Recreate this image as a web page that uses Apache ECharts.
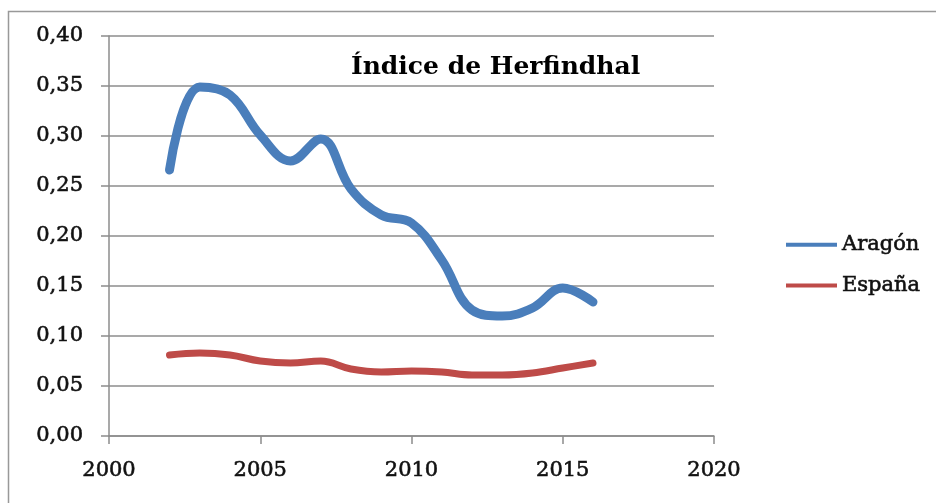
<!DOCTYPE html>
<html>
<head>
<meta charset="utf-8">
<script src="https://cdn.jsdelivr.net/npm/echarts@6/dist/echarts.min.js"></script>
<style>
  html, body { margin: 0; padding: 0; background: #fff; }
  #chart { width: 936px; height: 503px; }
</style>
</head>
<body>
<div id="chart"></div>
<script>
// años y valores del índice
var years = [2002, 2003, 2004, 2005, 2006, 2007, 2008, 2009, 2010, 2011, 2012, 2013, 2014, 2015, 2016];
var aragon = [0.266, 0.349, 0.341, 0.301, 0.275, 0.297, 0.247, 0.221, 0.213, 0.176, 0.126, 0.120, 0.128, 0.148, 0.134];
var espana = [0.081, 0.083, 0.081, 0.075, 0.073, 0.075, 0.067, 0.064, 0.065, 0.064, 0.061, 0.061, 0.063, 0.068, 0.073];
var seriesNames = ['Aragón', 'España'];
var titleText = 'Índice de Herfindhal';

function pairs(vals) {
  var out = [];
  for (var i = 0; i < years.length; i++) {
    out.push([years[i], vals[i]]);
  }
  return out;
}

var chart = echarts.init(document.getElementById('chart'));
var font = 'DejaVu Serif';
var axisColor = '#8c8c8c';
// texto algo grueso, como en el original
var labelStyle = {
  fontFamily: font, fontSize: 21, color: '#111',
  textBorderColor: '#111', textBorderWidth: 0.6
};

var option = {
  backgroundColor: '#fff',
  animation: false,
  title: {
    text: titleText,
    left: 346,
    top: 50,
    textStyle: { fontFamily: font, fontWeight: 'bold', fontSize: 25, color: '#000' }
  },
  legend: {
    orient: 'vertical',
    left: 781,
    top: 229,
    itemWidth: 51,
    itemHeight: 4,
    itemGap: 19,
    icon: 'rect',
    data: seriesNames,
    textStyle: labelStyle
  },
  grid: { left: 109, right: 222, top: 36, bottom: 67, containLabel: false },
  xAxis: {
    type: 'value',
    min: 2000,
    max: 2020,
    interval: 5,
    axisLine: { show: true, lineStyle: { color: axisColor, width: 1.5 } },
    axisTick: { show: true, length: 8, lineStyle: { color: axisColor, width: 1.5 } },
    splitLine: { show: false },
    axisLabel: Object.assign({
      margin: 24,
      formatter: function (v) { return String(v); }
    }, labelStyle)
  },
  yAxis: {
    type: 'value',
    min: 0,
    max: 0.4,
    interval: 0.05,
    axisLine: { show: true, lineStyle: { color: axisColor, width: 1.5 } },
    axisTick: { show: true, length: 8, lineStyle: { color: axisColor, width: 1.5 } },
    splitLine: { show: true, lineStyle: { color: axisColor, width: 1.5 } },
    axisLabel: Object.assign({
      margin: 26,
      formatter: function (v) { return v.toFixed(2).replace('.', ','); }
    }, labelStyle)
  },
  series: [
    {
      name: seriesNames[0],
      type: 'line',
      smooth: 0.4,
      symbol: 'none',
      data: pairs(aragon),
      itemStyle: { color: '#4a7ebb' },
      lineStyle: { color: '#4a7ebb', width: 9, cap: 'round', join: 'round' }
    },
    {
      name: seriesNames[1],
      type: 'line',
      smooth: 0.4,
      symbol: 'none',
      data: pairs(espana),
      itemStyle: { color: '#be4b48' },
      lineStyle: { color: '#be4b48', width: 7, cap: 'round', join: 'round' }
    }
  ],
  graphic: [
    {
      type: 'rect',
      shape: { x: 8.5, y: 11.5, width: 940, height: 500 },
      style: { fill: 'none', stroke: '#999', lineWidth: 1.5 },
      silent: true
    }
  ]
};

chart.setOption(option);
</script>
</body>
</html>
